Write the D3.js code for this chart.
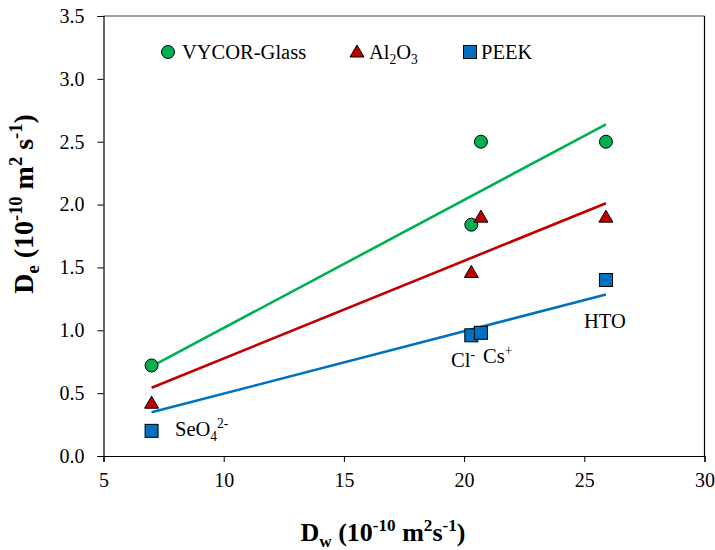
<!DOCTYPE html>
<html>
<head>
<meta charset="utf-8">
<script src="https://cdn.jsdelivr.net/npm/d3@7"></script>
<style>
  html, body { margin: 0; padding: 0; background: #fff; }
  svg { display: block; }
</style>
</head>
<body>
<svg id="chart" width="715" height="550"></svg>
<script>
// Water diffusivity Dw (1e-10 m2/s) of the tracers
const tracers = ["SeO4", "Cl", "Cs", "HTO"];
const dw = [7.0, 20.3, 20.7, 25.9];

// Effective diffusivity De (1e-10 m2/s) per filter material
const vycor = [0.72, 1.84, 2.5, 2.5];
const alumina = [0.42, 1.46, 1.9, 1.9];
const peek = [0.2, 0.96, 0.98, 1.4];

const xTicks = [5, 10, 15, 20, 25, 30];
const yTicks = [0, 0.5, 1.0, 1.5, 2.0, 2.5, 3.0, 3.5];

const series = [
  { name: "VYCOR-Glass", values: vycor, color: "#00B050", shape: "circle" },
  { name: "Al2O3", values: alumina, color: "#C00000", shape: "triangle" },
  { name: "PEEK", values: peek, color: "#0070C0", shape: "square" }
];

const FONT = "Liberation Serif, DejaVu Serif, serif";

const svg = d3.select("#chart").attr("font-family", FONT);
const x = d3.scaleLinear().domain([5, 30]).range([103.5, 704.5]);
const y = d3.scaleLinear().domain([0, 3.5]).range([456, 16]);

// plot frame: grey top, black right
svg.append("line").attr("x1", x(5)).attr("x2", x(30)).attr("y1", y(3.5)).attr("y2", y(3.5))
  .attr("stroke", "#808080").attr("stroke-width", 1.5);
svg.append("line").attr("x1", x(30)).attr("x2", x(30)).attr("y1", y(3.5)).attr("y2", y(0))
  .attr("stroke", "#000").attr("stroke-width", 1.2);

// axes
const xAxis = svg.append("g").attr("transform", `translate(0,${y(0)})`)
  .call(d3.axisBottom(x).tickValues(xTicks).tickFormat(d3.format("d")).tickSize(6).tickPadding(8));
const yAxis = svg.append("g").attr("transform", `translate(${x(5)},0)`)
  .call(d3.axisLeft(y).tickValues(yTicks).tickFormat(d3.format(".1f")).tickSize(6).tickPadding(13));
[xAxis, yAxis].forEach(g => {
  g.attr("font-family", FONT).attr("font-size", 20);
  g.select(".domain").attr("stroke", "#000").attr("stroke-width", 1.2);
  g.selectAll(".tick line").attr("stroke", "#000").attr("stroke-width", 1);
  g.selectAll(".tick text").attr("fill", "#000");
});
xAxis.selectAll(".tick text").attr("dy", "0.85em");

// linear trend lines through the origin, spanning the measured Dw range
const xmin = d3.min(dw), xmax = d3.max(dw);
series.forEach(s => {
  const slope = d3.sum(dw, (d, i) => d * s.values[i]) / d3.sum(dw, d => d * d);
  svg.append("line")
    .attr("x1", x(xmin)).attr("y1", y(slope * xmin))
    .attr("x2", x(xmax)).attr("y2", y(slope * xmax))
    .attr("stroke", s.color).attr("stroke-width", 2.6);
});

// marker drawing
function marker(g, shape, cx, cy, color) {
  if (shape === "circle") {
    g.append("circle").attr("cx", cx).attr("cy", cy).attr("r", 6.5)
      .attr("fill", color).attr("stroke", "#000").attr("stroke-width", 1);
  } else if (shape === "triangle") {
    g.append("path").attr("d", `M${cx},${cy - 7}L${cx + 7},${cy + 5}L${cx - 7},${cy + 5}Z`)
      .attr("fill", color).attr("stroke", "#000").attr("stroke-width", 1);
  } else {
    g.append("rect").attr("x", cx - 6.5).attr("y", cy - 6.5).attr("width", 13).attr("height", 13)
      .attr("fill", color).attr("stroke", "#000").attr("stroke-width", 1);
  }
}

const pts = svg.append("g");
series.forEach(s => {
  dw.forEach((d, i) => marker(pts, s.shape, x(d), y(s.values[i]), s.color));
});

// legend
const legend = [
  { shape: "circle", color: "#00B050", lx: 168, tx: 182, parts: [["VYCOR-Glass", null]] },
  { shape: "triangle", color: "#C00000", lx: 357, tx: 369, parts: [["Al", null], ["2", "sub"], ["O", null], ["3", "sub"]] },
  { shape: "square", color: "#0070C0", lx: 470, tx: 481, parts: [["PEEK", null]] }
];

function richText(g, tx, ty, parts, size, weight) {
  const t = g.append("text").attr("x", tx).attr("y", ty)
    .attr("font-family", FONT).attr("font-size", size)
    .attr("font-weight", weight || "normal").attr("fill", "#000");
  let shift = 0;
  parts.forEach(([str, kind]) => {
    let target = 0, fs = size;
    if (kind === "sub") { target = size * 0.22; fs = size * 0.66; }
    if (kind === "sup") { target = -size * 0.38; fs = size * 0.66; }
    t.append("tspan").attr("dy", target - shift).attr("font-size", fs).text(str);
    shift = target;
  });
  return t;
}

legend.forEach(l => {
  marker(svg, l.shape, l.lx, 52, l.color);
  richText(svg, l.tx, 59, l.parts, 20.5);
});

// tracer annotations
richText(svg, 175, 436, [["SeO", null], ["4", "sub"], ["2-", "sup"]], 20.5);
richText(svg, 451, 367, [["Cl", null], ["-", "sup"]], 20.5);
richText(svg, 483, 363, [["Cs", null], ["+", "sup"]], 20.5);
richText(svg, 584, 328, [["HTO", null]], 20.5);

// axis titles
const xt = richText(svg, 0, 541, [["D", null], ["w", "sub"], [" (10", null], ["-10", "sup"], [" m", null], ["2", "sup"], ["s", null], ["-1", "sup"], [")", null]], 26, "bold");
const xb = xt.node().getBBox();
xt.attr("x", 383 - xb.width / 2);

const yg = svg.append("g").attr("transform", "translate(33,204) rotate(-90)");
const yt = richText(yg, 0, 0, [["D", null], ["e", "sub"], [" (10", null], ["-10", "sup"], [" m", null], ["2", "sup"], [" s", null], ["-1", "sup"], [")", null]], 28, "bold");
const yb = yt.node().getBBox();
yt.attr("x", -yb.width / 2);
</script>
</body>
</html>
